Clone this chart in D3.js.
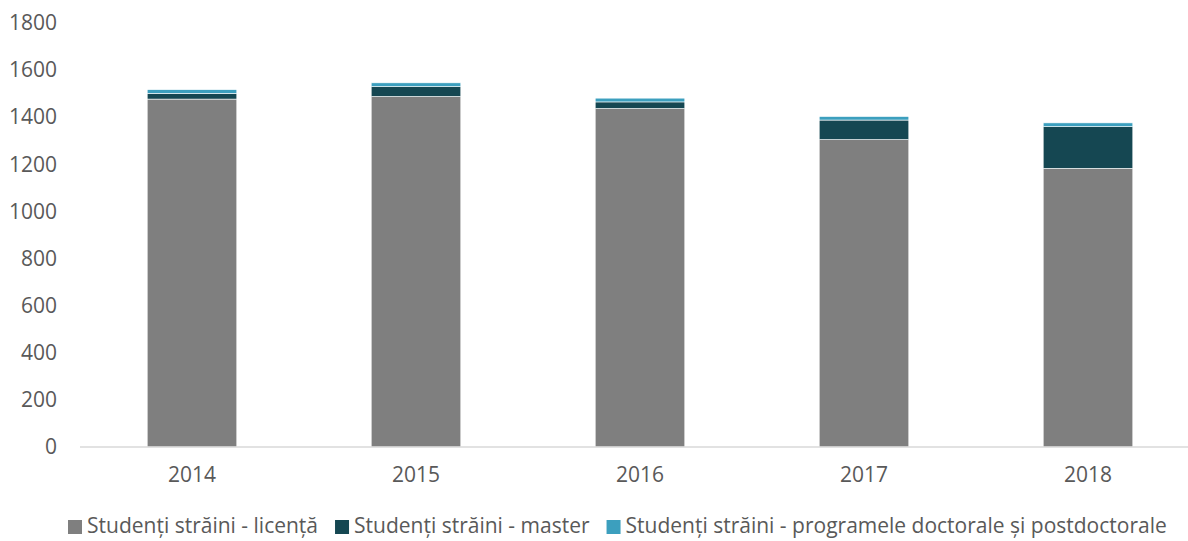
<!DOCTYPE html>
<html>
<head>
<meta charset="utf-8">
<script src="https://cdn.jsdelivr.net/npm/d3@7"></script>
<style>
  html, body { margin: 0; padding: 0; background: #fff; }
  svg { display: block; font-family: "Open Sans", sans-serif; }
</style>
</head>
<body>
<div id="chart"></div>
<script>
/* Data */
const years = ["2014", "2015", "2016", "2017", "2018"]
const licenta = [1477, 1488, 1437, 1305, 1183]
const master = [24, 42, 28, 83, 177]
const doctorat = [16, 16, 16, 15, 16]
const seriesNames = [
  "Studenți străini - licență",
  "Studenți străini - master",
  "Studenți străini - programele doctorale și postdoctorale"
]
const yTicks = [0, 200, 400, 600, 800, 1000, 1200, 1400, 1600, 1800]
const colors = ["#7f7f7f", "#154752", "#3c9fbe"]

/* Dimensions */
const width = 1188
const height = 541
const margin = { top: 23, right: -12, bottom: 94, left: 80 }
const boundedWidth = width - margin.left - margin.right
const boundedHeight = height - margin.top - margin.bottom

const svg = d3.select("#chart").append("svg")
    .attr("width", width)
    .attr("height", height)

const bounds = svg.append("g")
    .attr("transform", `translate(${margin.left},${margin.top})`)

/* Scales */
const rows = years.map((y, i) => ({ year: y, licenta: licenta[i], master: master[i], doctorat: doctorat[i] }))
const keys = ["licenta", "master", "doctorat"]
const stacked = d3.stack().keys(keys)(rows)

const xScale = d3.scaleBand()
    .domain(years)
    .range([0, boundedWidth])
    .paddingInner(0.6)
    .paddingOuter(0.3)

const yScale = d3.scaleLinear()
    .domain([0, 1800])
    .range([boundedHeight, 0])

/* Bars */
bounds.append("g").selectAll("g")
    .data(stacked)
    .enter().append("g")
      .attr("fill", (d, i) => colors[i])
    .selectAll("rect")
    .data(d => d)
    .enter().append("rect")
      .attr("x", d => xScale(d.data.year))
      .attr("y", d => yScale(d[1]))
      .attr("width", xScale.bandwidth())
      .attr("height", d => yScale(d[0]) - yScale(d[1]))
      .attr("stroke", "#ffffff")
      .attr("stroke-width", 0.6)

/* Axes */
bounds.append("line")
    .attr("x1", 0)
    .attr("x2", width - margin.left)
    .attr("y1", boundedHeight)
    .attr("y2", boundedHeight)
    .attr("stroke", "#d9d9d9")
    .attr("stroke-width", 1.5)

const yAxis = bounds.append("g")
    .call(d3.axisLeft(yScale).tickValues(yTicks).tickFormat(d3.format("d")).tickSize(0).tickPadding(23))
yAxis.select(".domain").remove()
yAxis.selectAll("text")
    .attr("fill", "#595959")
    .style("font-size", "21px")
    .style("font-family", "'Open Sans', sans-serif")

const xAxis = bounds.append("g")
    .attr("transform", `translate(0,${boundedHeight})`)
    .call(d3.axisBottom(xScale).tickSize(0).tickPadding(20))
xAxis.select(".domain").remove()
xAxis.selectAll("text")
    .attr("fill", "#595959")
    .style("font-size", "21px")
    .style("font-family", "'Open Sans', sans-serif")

/* Legend */
const legend = svg.append("g")
    .attr("transform", "translate(68,526)")
let lx = 0
seriesNames.forEach((name, i) => {
  const item = legend.append("g").attr("transform", `translate(${lx},0)`)
  item.append("rect")
      .attr("x", 0)
      .attr("y", -6)
      .attr("width", 14)
      .attr("height", 14)
      .attr("fill", colors[i])
  const t = item.append("text")
      .attr("x", 19)
      .attr("y", 0)
      .attr("dy", "0.35em")
      .attr("fill", "#595959")
      .style("font-size", "21px")
      .text(name)
  lx += 19 + t.node().getComputedTextLength() + 17
})
</script>
</body>
</html>
